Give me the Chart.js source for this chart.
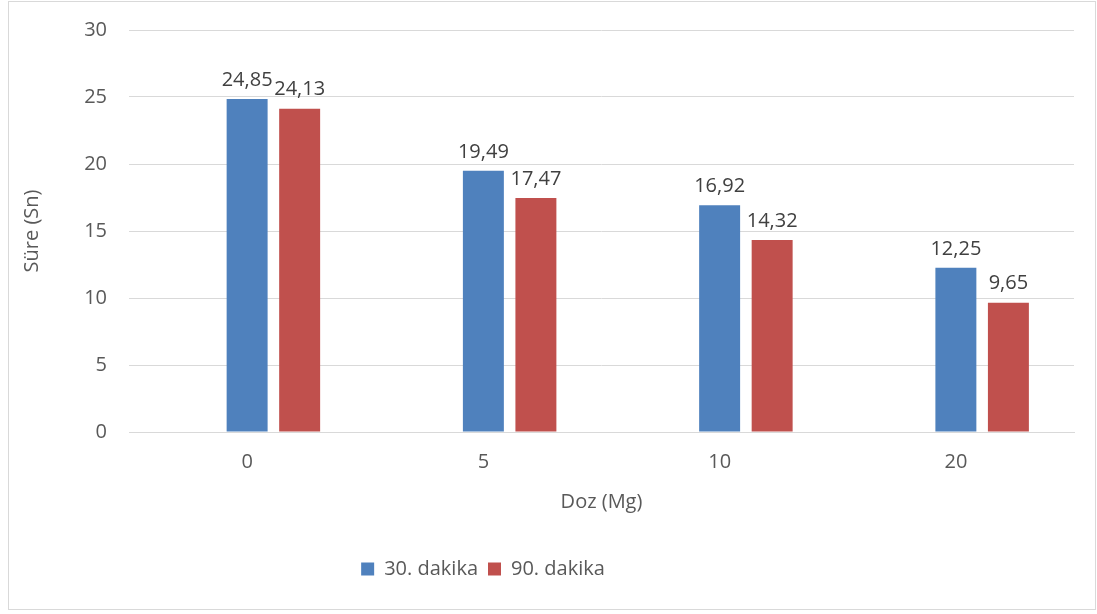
<!DOCTYPE html>
<html>
<head>
<meta charset="utf-8">
<script src="https://cdn.jsdelivr.net/npm/chart.js@4.4.1/dist/chart.umd.min.js"></script>
<style>
  body { margin: 0; background: #fff; }
  #wrap { position: relative; width: 1097px; height: 614px; }
  #frame { position: absolute; left: 8px; top: 1px; width: 1088px; height: 609px; border: 1px solid #d9d9d9; box-sizing: border-box; pointer-events: none; }
</style>
</head>
<body>
<div id="wrap">
  <canvas id="myChart" width="1097" height="614"></canvas>
  <div id="frame"></div>
</div>
<script>
  let doz = ['0', '5', '10', '20']
  let dakika30 = [24.85, 19.49, 16.92, 12.25]
  let dakika90 = [24.13, 17.47, 14.32, 9.65]
  let yTicks = [0, 5, 10, 15, 20, 25, 30]

  const font = "'Open Sans', 'DejaVu Sans', sans-serif"

  // etiketleri çubukların üstüne yaz
  const barLabels = {
    id: 'barLabels',
    afterDatasetsDraw(chart) {
      const ctx = chart.ctx
      ctx.save()
      ctx.font = '20px ' + font
      ctx.fillStyle = '#404040'
      ctx.textAlign = 'center'
      ctx.textBaseline = 'bottom'
      chart.data.datasets.forEach((ds, i) => {
        if (!ds.showLabels) return
        chart.getDatasetMeta(i).data.forEach((bar, j) => {
          ctx.fillText(ds.data[j].toFixed(2).replace('.', ','), bar.x, bar.y - 9)
        })
      })
      ctx.restore()
    }
  }

  // legend biraz sola, grafik alanının üstü 30px
  const layoutFix = {
    id: 'layoutFix',
    afterLayout(chart) {
      chart.legend.left -= 54
      chart.legend.right -= 54
      const y = chart.scales.y
      y.top = 30
      y.height = y.bottom - y.top
      y.configure()
      chart.chartArea.top = 30
      chart.chartArea.height = chart.chartArea.bottom - 30
    }
  }

  var chartArea = document.getElementById('myChart').getContext('2d')
  var myChart = new Chart(chartArea, {
    type: 'bar',
    data: {
      labels: doz,
      datasets: [{
        label: '',
        data: doz.map(() => null),
        backgroundColor: 'rgba(0,0,0,0)',
        hiddenInLegend: true
      }, {
        label: '30. dakika',
        data: dakika30,
        backgroundColor: '#4f81bd',
        showLabels: true
      }, {
        label: '90. dakika',
        data: dakika90,
        backgroundColor: '#c0504d',
        showLabels: true
      }]
    },
    options: {
      responsive: false,
      animation: false,
      layout: { padding: { left: 0, right: 23, top: 26, bottom: 25 } },
      datasets: { bar: { categoryPercentage: 0.667, barPercentage: 0.78 } },
      scales: {
        x: {
          grid: { display: false, drawTicks: false },
          border: { color: '#d9d9d9', width: 1 },
          ticks: { color: '#595959', font: { family: font, size: 20 }, padding: 18 },
          title: { display: true, text: 'Doz (Mg)', color: '#595959', font: { family: font, size: 20 }, padding: { top: 0, bottom: 35 } },
          afterFit: (s) => { s.height = 117 }
        },
        y: {
          min: 0,
          max: 30,
          afterBuildTicks: (s) => { s.ticks = yTicks.map(v => ({ value: v })) },
          grid: { color: '#d9d9d9', drawTicks: false },
          border: { display: false },
          ticks: { color: '#595959', font: { family: font, size: 20 }, padding: 22 },
          title: { display: true, text: 'Süre (Sn)', color: '#595959', font: { family: font, size: 20 }, padding: { top: 20 } },
          afterFit: (s) => { s.width = 129 }
        }
      },
      plugins: {
        legend: {
          position: 'bottom',
          labels: {
            color: '#595959',
            font: { family: font, size: 20 },
            boxWidth: 13,
            boxHeight: 13,
            padding: 10,
            filter: (item, data) => !data.datasets[item.datasetIndex].hiddenInLegend
          }
        },
        tooltip: { enabled: false }
      }
    },
    plugins: [barLabels, layoutFix]
  })
</script>
</body>
</html>
